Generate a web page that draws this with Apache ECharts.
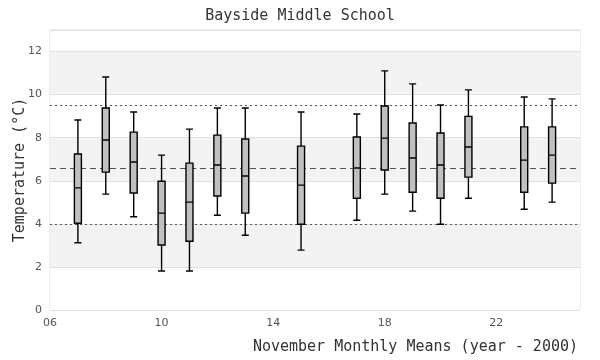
<!DOCTYPE html>
<html>
<head>
<meta charset="utf-8">
<script src="https://cdn.jsdelivr.net/npm/echarts@6/dist/echarts.min.js"></script>
<style>html,body{margin:0;padding:0;background:#fff}#c{width:600px;height:360px}</style>
</head>
<body>
<div id="c"></div>
<script>
// Categories (year - 2000)
var categories = ['06','07','08','09','10','11','12','13','14','15','16','17','18','19','20','21','22','23','24','25'];
// Years that have a box
var boxYears   = ['07','08','09','10','11','12','13','15','17','18','19','20','21','23','24'];
var whiskerLow = [3.12, 5.38, 4.33, 1.81, 1.81, 4.40, 3.47, 2.78, 4.17, 5.38, 4.59, 3.98, 5.19, 4.68, 5.01];
var q1Values   = [4.03, 6.40, 5.43, 3.02, 3.19, 5.29, 4.50, 3.98, 5.19, 6.50, 5.47, 5.19, 6.17, 5.47, 5.89];
var medValues  = [5.67, 7.89, 6.87, 4.50, 5.01, 6.73, 6.22, 5.80, 6.59, 7.98, 7.06, 6.73, 7.57, 6.96, 7.19];
var q3Values   = [7.24, 9.38, 8.26, 5.98, 6.82, 8.12, 7.94, 7.61, 8.03, 9.47, 8.68, 8.22, 8.99, 8.50, 8.50];
var whiskerHigh= [8.82, 10.82, 9.19, 7.19, 8.40, 9.38, 9.38, 9.19, 9.10, 11.10, 10.50, 9.52, 10.22, 9.89, 9.80];
// Reference lines
var meanLine = 6.59;
var upperLine = 9.52;
var lowerLine = 4.00;
// Y tick settings
var yMin = 0, yMax = 13, yStep = 2;

var boxData = categories.map(function (c) {
  var i = boxYears.indexOf(c);
  if (i < 0) return ['-', '-', '-', '-', '-'];
  return [whiskerLow[i], q1Values[i], medValues[i], q3Values[i], whiskerHigh[i]];
});

var mono = 'DejaVu Sans Mono';
var chart = echarts.init(document.getElementById('c'), null, {renderer: 'canvas'});
chart.setOption({
  animation: false,
  title: {
    text: 'Bayside Middle School',
    left: 'center',
    top: 4,
    textStyle: {fontFamily: mono, fontSize: 15, fontWeight: 'normal', color: '#333'}
  },
  grid: {left: 50, right: 20, top: 30, bottom: 50, containLabel: false, outerBoundsMode: 'none', show: true, borderColor: '#dddddd', borderWidth: 1, backgroundColor: 'transparent'},
  xAxis: {
    type: 'category',
    data: categories,
    boundaryGap: false,
    axisLine: {show: false},
    axisTick: {show: false},
    splitLine: {show: false},
    axisLabel: {interval: 3, margin: 8, fontFamily: 'DejaVu Sans', fontSize: 11, color: '#555'},
    name: 'November Monthly Means (year - 2000)',
    nameLocation: 'end',
    nameGap: -2,
    nameMoveOverlap: false,
    nameTextStyle: {fontFamily: mono, fontSize: 15, color: '#333', align: 'right', verticalAlign: 'top', padding: [30, 0, 0, 0]}
  },
  yAxis: {
    type: 'value',
    min: yMin, max: yMax, interval: yStep,
    axisLine: {show: false},
    axisTick: {show: false},
    axisLabel: {showMaxLabel: false, margin: 8, fontFamily: 'DejaVu Sans', fontSize: 11, color: '#555'},
    splitLine: {show: true, lineStyle: {color: '#e0e0e0', width: 1}},
    splitArea: {show: true, areaStyle: {color: ['#ffffff', '#f3f3f3']}},
    name: 'Temperature (°C)',
    nameLocation: 'middle',
    nameGap: 22,
    nameMoveOverlap: false,
    nameTextStyle: {fontFamily: mono, fontSize: 15, color: '#333'}
  },
  series: [{
    type: 'boxplot',
    data: boxData,
    boxWidth: [7, 7],
    itemStyle: {color: '#c0c0c0', borderColor: '#000', borderWidth: 1.4},
    z: 3,
    markLine: {
      silent: true,
      symbol: 'none',
      z: 1,
      label: {show: false},
      data: [
        {yAxis: upperLine, lineStyle: {type: [2, 3], color: '#555', width: 1}},
        {yAxis: meanLine, lineStyle: {type: [6, 4], color: '#555', width: 1}},
        {yAxis: lowerLine, lineStyle: {type: [2, 3], color: '#555', width: 1}}
      ]
    }
  }]
});
</script>
</body>
</html>
